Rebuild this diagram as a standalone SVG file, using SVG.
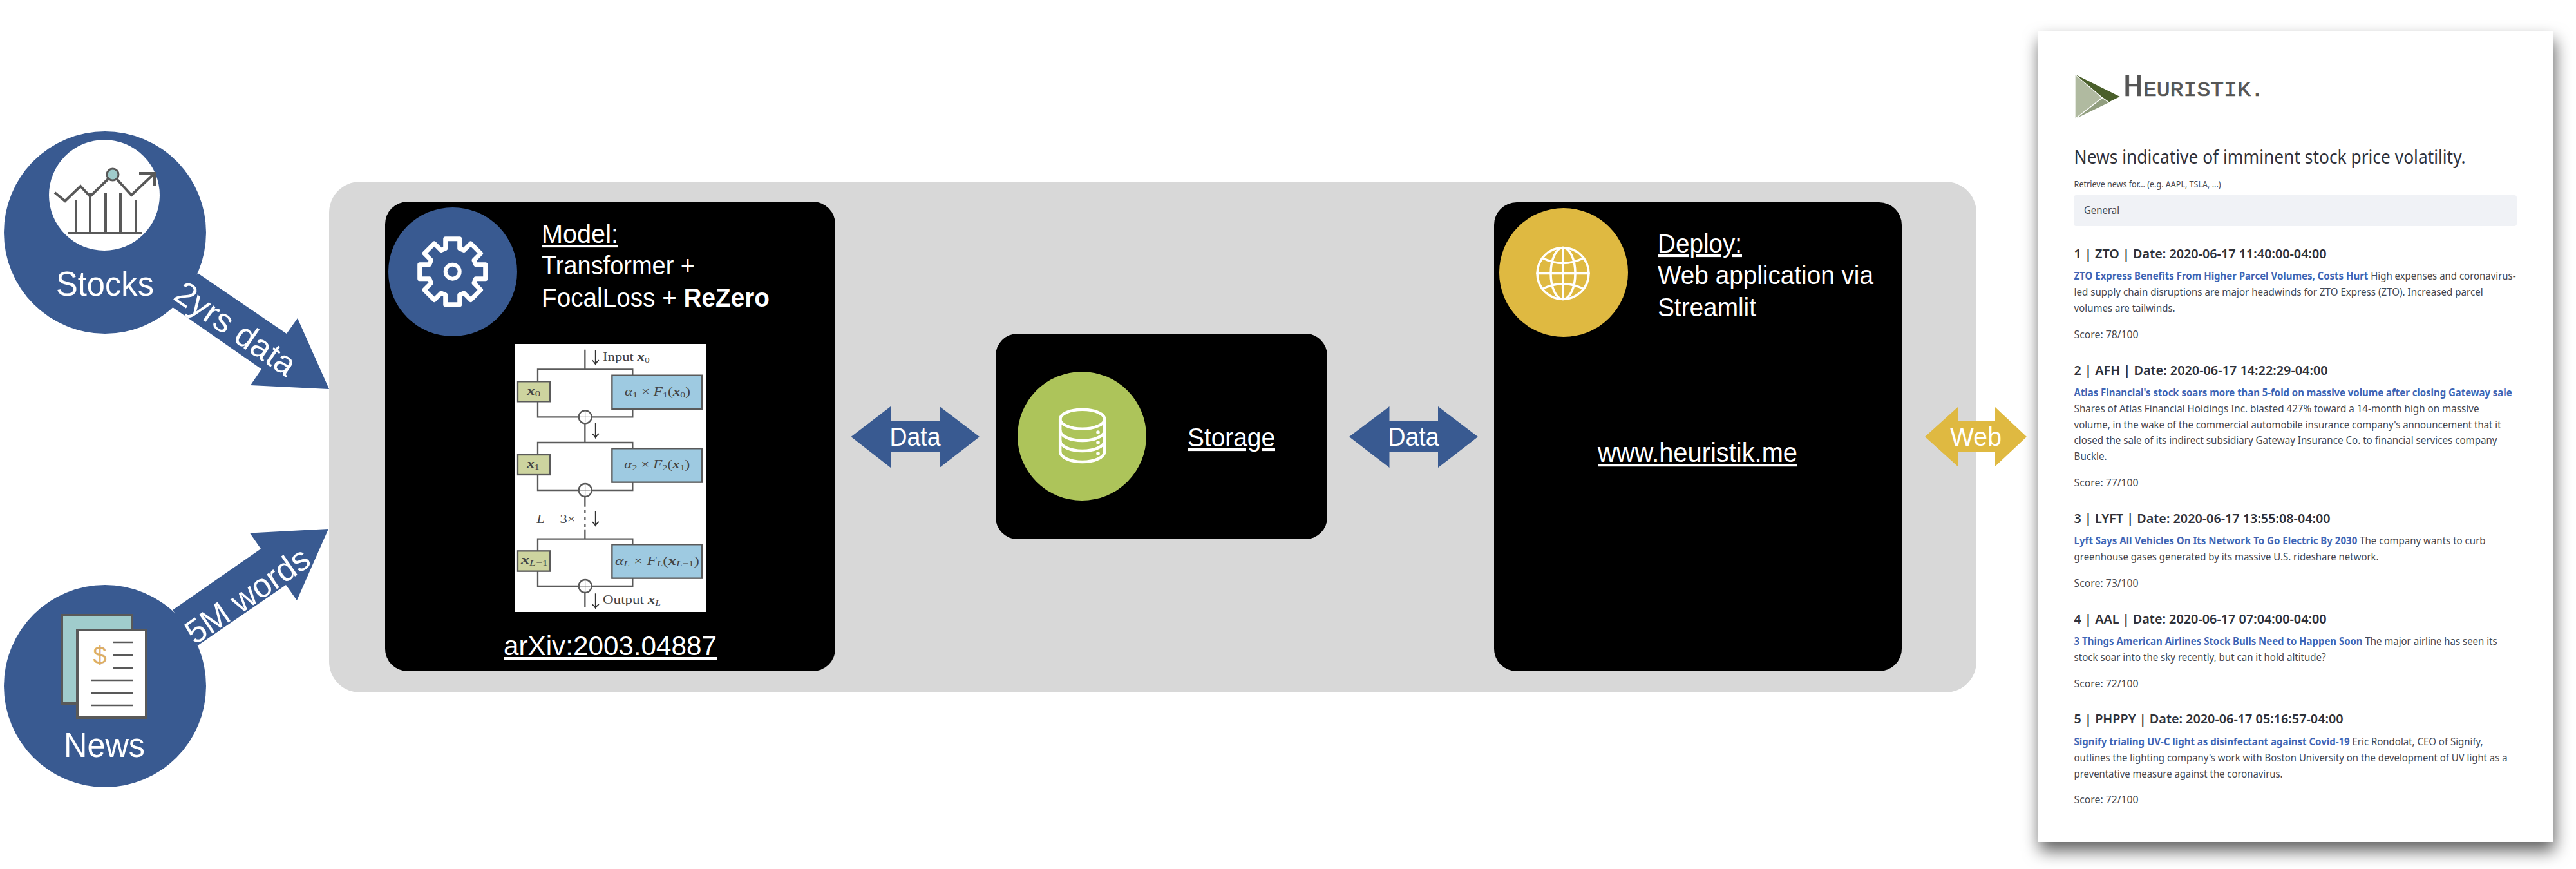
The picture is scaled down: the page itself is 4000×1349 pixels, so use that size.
<svg xmlns="http://www.w3.org/2000/svg" width="4000" height="1349" viewBox="0 0 4000 1349">
<style>
.s{font-family:"Liberation Sans",Arial,sans-serif;fill:#fff}
.t40{font-size:41px}
.t42{font-size:42px}
.t50{font-size:52px}
.t54{font-size:54px}
.u{text-decoration:underline;text-decoration-thickness:2.5px}
.blue{fill:#395a91}
.ln{fill:none;stroke:#595959;stroke-width:4}
.w{fill:none;stroke:#fff;stroke-linejoin:round;stroke-linecap:round}
.fig{fill:none;stroke:#5a5a5a;stroke-width:7}
.m{font-family:"Liberation Serif","Times New Roman",serif;font-size:56px;fill:#444}
.b{font-weight:700}
.i{font-style:italic}
.p{font-family:"Noto Sans",sans-serif;font-size:16.5px;fill:#45474f}
.h{font-family:"Noto Sans",sans-serif;font-size:20.5px;font-weight:600;fill:#2f3139}
.a{font-family:"Noto Sans",sans-serif;font-size:16.5px;font-weight:700;fill:#3f66b6}
</style>
<defs>
<filter id="sh" x="-10%" y="-10%" width="120%" height="120%">
<feDropShadow dx="3" dy="14" stdDeviation="13" flood-color="#000" flood-opacity="0.62"/>
</filter>
</defs>

<rect id="pipeline" x="511" y="282" width="2558" height="793" rx="48" fill="#d8d8d8"/>

<g id="webapp">
<rect x="3164" y="48" width="800" height="1259" fill="#fff" filter="url(#sh)"/>
<polygon points="3222.7,116.7 3263.3,151.7 3222.7,183.3" fill="#b0baa0"/>
<polygon points="3223.3,116 3291.7,150 3275,158.3 3263.3,150" fill="#4a5f2a"/>
<polygon points="3264.3,152.7 3274.3,159.3 3225,183.3" fill="#919e7f"/>
<text x="3296.7" y="149" textLength="219" lengthAdjust="spacingAndGlyphs" font-family="'Liberation Mono',monospace" font-size="32" fill="#555" stroke="#555" stroke-width="0.7"><tspan font-size="48">H</tspan>EURISTIK.</text>
<text x="3220.6" y="254" textLength="608" lengthAdjust="spacingAndGlyphs" font-family="'Noto Sans',sans-serif" font-size="29" fill="#31333c">News indicative of imminent stock price volatility.</text>
<text class="p" x="3220.6" y="291" textLength="228" lengthAdjust="spacingAndGlyphs" style="font-size:13.5px">Retrieve news for... (e.g. AAPL, TSLA, ...)</text>
<rect x="3220" y="303" width="688" height="48" rx="4" fill="#f0f2f6"/>
<text class="p" x="3236" y="332" textLength="55" lengthAdjust="spacingAndGlyphs">General</text>

<text class="h" x="3220.6" y="400.7" textLength="392" lengthAdjust="spacingAndGlyphs">1 | ZTO | Date: 2020-06-17 11:40:00-04:00</text>
<text class="p" x="3220.6" y="434" textLength="686" lengthAdjust="spacingAndGlyphs"><tspan class="a">ZTO Express Benefits From Higher Parcel Volumes, Costs Hurt</tspan> High expenses and coronavirus-</text>
<text class="p" x="3220.6" y="459.3" textLength="635" lengthAdjust="spacingAndGlyphs">led supply chain disruptions are major headwinds for ZTO Express (ZTO). Increased parcel</text>
<text class="p" x="3220.6" y="484" textLength="157" lengthAdjust="spacingAndGlyphs">volumes are tailwinds.</text>
<text class="p" x="3220.6" y="525" textLength="100" lengthAdjust="spacingAndGlyphs">Score: 78/100</text>

<text class="h" x="3220.6" y="581.7" textLength="394" lengthAdjust="spacingAndGlyphs">2 | AFH | Date: 2020-06-17 14:22:29-04:00</text>
<text class="a" x="3220.6" y="615" textLength="680" lengthAdjust="spacingAndGlyphs">Atlas Financial's stock soars more than 5-fold on massive volume after closing Gateway sale</text>
<text class="p" x="3220.6" y="640" textLength="629" lengthAdjust="spacingAndGlyphs">Shares of Atlas Financial Holdings Inc. blasted 427% toward a 14-month high on massive</text>
<text class="p" x="3220.6" y="665" textLength="663" lengthAdjust="spacingAndGlyphs">volume, in the wake of the commercial automobile insurance company's announcement that it</text>
<text class="p" x="3220.6" y="689" textLength="657" lengthAdjust="spacingAndGlyphs">closed the sale of its indirect subsidiary Gateway Insurance Co. to financial services company</text>
<text class="p" x="3220.6" y="714" textLength="51" lengthAdjust="spacingAndGlyphs">Buckle.</text>
<text class="p" x="3220.6" y="755" textLength="100" lengthAdjust="spacingAndGlyphs">Score: 77/100</text>

<text class="h" x="3220.6" y="811.7" textLength="398" lengthAdjust="spacingAndGlyphs">3 | LYFT | Date: 2020-06-17 13:55:08-04:00</text>
<text class="p" x="3220.6" y="845" textLength="639" lengthAdjust="spacingAndGlyphs"><tspan class="a">Lyft Says All Vehicles On Its Network To Go Electric By 2030</tspan> The company wants to curb</text>
<text class="p" x="3220.6" y="870" textLength="473" lengthAdjust="spacingAndGlyphs">greenhouse gases generated by its massive U.S. rideshare network.</text>
<text class="p" x="3220.6" y="910.7" textLength="100" lengthAdjust="spacingAndGlyphs">Score: 73/100</text>

<text class="h" x="3220.6" y="967.7" textLength="392" lengthAdjust="spacingAndGlyphs">4 | AAL | Date: 2020-06-17 07:04:00-04:00</text>
<text class="p" x="3220.6" y="1001" textLength="657" lengthAdjust="spacingAndGlyphs"><tspan class="a">3 Things American Airlines Stock Bulls Need to Happen Soon</tspan> The major airline has seen its</text>
<text class="p" x="3220.6" y="1026" textLength="391" lengthAdjust="spacingAndGlyphs">stock soar into the sky recently, but can it hold altitude?</text>
<text class="p" x="3220.6" y="1066.7" textLength="100" lengthAdjust="spacingAndGlyphs">Score: 72/100</text>

<text class="h" x="3220.6" y="1123" textLength="418" lengthAdjust="spacingAndGlyphs">5 | PHPPY | Date: 2020-06-17 05:16:57-04:00</text>
<text class="p" x="3220.6" y="1157" textLength="635" lengthAdjust="spacingAndGlyphs"><tspan class="a">Signify trialing UV-C light as disinfectant against Covid-19</tspan> Eric Rondolat, CEO of Signify,</text>
<text class="p" x="3220.6" y="1182" textLength="673" lengthAdjust="spacingAndGlyphs">outlines the lighting company's work with Boston University on the development of UV light as a</text>
<text class="p" x="3220.6" y="1207" textLength="324" lengthAdjust="spacingAndGlyphs">preventative measure against the coronavirus.</text>
<text class="p" x="3220.6" y="1247" textLength="100" lengthAdjust="spacingAndGlyphs">Score: 72/100</text>
</g>

<g id="stocks">
<ellipse class="blue" cx="163" cy="361" rx="157" ry="157"/>
<circle cx="162" cy="303" r="86" fill="#fff"/>
<polyline points="85,299 101,312 125,289 140,305 175,271 204,303 240,269" class="ln"/>
<polyline points="216,269 240,269 240,289" class="ln"/>
<path d="M118 310V362M140 299V362M164 299V362M187 299V362M211 310V362M106 362H221" class="ln"/>
<circle cx="175" cy="271" r="9" fill="#a0cccc" stroke="#595959" stroke-width="3"/>
<text class="s t54" x="163" y="459" text-anchor="middle" textLength="152" lengthAdjust="spacingAndGlyphs">Stocks</text>
</g>

<g id="news">
<ellipse class="blue" cx="163" cy="1065" rx="157" ry="157"/>
<rect x="96" y="955" width="109" height="137" fill="#a0cccc" stroke="#595959" stroke-width="4"/>
<rect x="120" y="978" width="107" height="136" fill="#fff" stroke="#595959" stroke-width="4"/>
<text x="155" y="1031" text-anchor="middle" font-family="'Liberation Sans',sans-serif" font-size="38" fill="#dcae66">$</text>
<path d="M175 997H207M175 1017H207M175 1037H207M142 1056H207M142 1076H207M142 1095H207" class="ln" style="stroke-width:2.5"/>
<text class="s t54" x="162" y="1175" text-anchor="middle" textLength="126" lengthAdjust="spacingAndGlyphs">News</text>
</g>

<g id="model">
<rect x="598" y="313" width="699" height="729" rx="35"/>
<circle class="blue" cx="703" cy="422" r="100"/>
<g transform="translate(702.7 421.7)">
<path class="w" stroke-width="7" d="M-11-36V-51H11V-36L17.7-33.2 28.3-43.8 43.8-28.3 33.2-17.7 36-11H51V11H36L33.2 17.7 43.8 28.3 28.3 43.8 17.7 33.2 11 36V51H-11V36L-17.7 33.2-28.3 43.8-43.8 28.3-33.2 17.7-36 11H-51V-11H-36L-33.2-17.7-43.8-28.3-28.3-43.8-17.7-33.2Z"/>
<circle class="w" r="11" stroke-width="6"/>
</g>
<text class="s t40 u" x="841" y="377" textLength="119" lengthAdjust="spacingAndGlyphs">Model:</text>
<text class="s t40" x="841" y="426" textLength="238" lengthAdjust="spacingAndGlyphs">Transformer +</text>
<text class="s t40" x="841" y="476" textLength="354" lengthAdjust="spacingAndGlyphs">FocalLoss + <tspan class="b">ReZero</tspan></text>
<g id="rezero-figure" transform="translate(770 520) scale(0.33333)">
<rect x="87" y="42" width="891" height="1248" fill="#fff"/>
<path class="fig" d="M415 68V160M195 217V160H637V188M195 310V382H637V345M415 412V500M195 558V501H637V529M195 651V723H637V686M415 753V800M415 950V905M195 1006V950H637V976M195 1100V1170H637V1133M415 1200V1268"/>
<path class="fig" d="M415 815V895" stroke-dasharray="13 20"/>
<g class="fig"><rect x="102" y="217" width="150" height="93" fill="#cdd49f"/><rect x="102" y="558" width="150" height="93" fill="#cdd49f"/><rect x="102" y="1006" width="150" height="94" fill="#cdd49f"/></g>
<g class="fig"><rect x="541" y="188" width="419" height="157" fill="#9ecae1"/><rect x="541" y="529" width="419" height="157" fill="#9ecae1"/><rect x="541" y="976" width="419" height="157" fill="#9ecae1"/></g>
<g class="fig"><circle cx="416" cy="382" r="30" fill="#fff"/><circle cx="416" cy="723" r="30" fill="#fff"/><circle cx="416" cy="1170" r="30" fill="#fff"/></g>
<path d="M392 382H440M416 358V406M392 723H440M416 699V747M392 1170H440M416 1146V1194" fill="none" stroke="#666" stroke-width="3"/>
<path d="M464 72V134M448 118Q458 124 464 136Q470 124 480 118M464 410V476M448 460Q458 466 464 478Q470 466 480 460M464 820V886M448 870Q458 876 464 888Q470 876 480 870M464 1204V1270M448 1254Q458 1260 464 1272Q470 1260 480 1254" fill="none" stroke="#333" stroke-width="5"/>
<text class="m" x="498" y="120" textLength="218" lengthAdjust="spacingAndGlyphs">Input <tspan class="b i">x</tspan><tspan font-size="38" dy="8">0</tspan></text>
<text class="m" x="145" y="278" textLength="62" lengthAdjust="spacingAndGlyphs"><tspan class="b i">x</tspan><tspan font-size="38" dy="8">0</tspan></text>
<text class="m" x="145" y="618" textLength="58" lengthAdjust="spacingAndGlyphs"><tspan class="b i">x</tspan><tspan font-size="38" dy="8">1</tspan></text>
<text class="m" x="117" y="1065" textLength="126" lengthAdjust="spacingAndGlyphs"><tspan class="b i">x</tspan><tspan class="i" font-size="38" dy="8">L</tspan><tspan font-size="38">−1</tspan></text>
<text class="m" x="600" y="282" textLength="306" lengthAdjust="spacingAndGlyphs"><tspan class="i">α</tspan><tspan font-size="38" dy="8">1</tspan><tspan dy="-8"> × </tspan><tspan class="i">F</tspan><tspan font-size="38" dy="8">1</tspan><tspan dy="-8">(</tspan><tspan class="b i">x</tspan><tspan font-size="38" dy="8">0</tspan><tspan dy="-8">)</tspan></text>
<text class="m" x="598" y="622" textLength="306" lengthAdjust="spacingAndGlyphs"><tspan class="i">α</tspan><tspan font-size="38" dy="8">2</tspan><tspan dy="-8"> × </tspan><tspan class="i">F</tspan><tspan font-size="38" dy="8">2</tspan><tspan dy="-8">(</tspan><tspan class="b i">x</tspan><tspan font-size="38" dy="8">1</tspan><tspan dy="-8">)</tspan></text>
<text class="m" x="555" y="1070" textLength="393" lengthAdjust="spacingAndGlyphs"><tspan class="i">α</tspan><tspan class="i" font-size="38" dy="8">L</tspan><tspan dy="-8"> × </tspan><tspan class="i">F</tspan><tspan class="i" font-size="38" dy="8">L</tspan><tspan dy="-8">(</tspan><tspan class="b i">x</tspan><tspan class="i" font-size="38" dy="8">L</tspan><tspan font-size="38">−1</tspan><tspan dy="-8">)</tspan></text>
<text class="m" x="190" y="875" textLength="180" lengthAdjust="spacingAndGlyphs"><tspan class="i">L</tspan> − 3×</text>
<text class="m" x="498" y="1252" textLength="270" lengthAdjust="spacingAndGlyphs">Output <tspan class="b i">x</tspan><tspan class="i" font-size="38" dy="8">L</tspan></text>
</g>
<text class="s t42 u" x="782" y="1017" textLength="331" lengthAdjust="spacingAndGlyphs">arXiv:2003.04887</text>
</g>

<g id="storage">
<rect x="1546" y="518" width="515" height="319" rx="34"/>
<circle cx="1680" cy="677" r="100" fill="#adc45a"/>
<g class="w" stroke-width="4.5">
<ellipse cx="1680.7" cy="650.7" rx="34.5" ry="15"/>
<path d="M1646.2 650.7V701C1646.2 710 1662 717 1680.7 717S1715.2 710 1715.2 701V650.7"/>
<path d="M1646.2 668C1646.2 677 1662 684 1680.7 684S1715.2 677 1715.2 668M1646.2 684C1646.2 693 1662 700 1680.7 700S1715.2 693 1715.2 684"/>
</g>
<circle cx="1705" cy="671" r="2.8" fill="#fff"/><circle cx="1705" cy="687" r="2.8" fill="#fff"/><circle cx="1705" cy="704" r="2.8" fill="#fff"/>
<text class="s t40 u" x="1844" y="693" textLength="136" lengthAdjust="spacingAndGlyphs">Storage</text>
</g>

<g id="deploy">
<rect x="2320" y="314" width="633" height="728" rx="35"/>
<circle cx="2428" cy="423" r="100" fill="#dfb941"/>
<g class="w" stroke-width="3.5" transform="translate(2427 424.5)">
<circle r="40"/>
<ellipse rx="19" ry="40"/>
<path d="M0-40V40M-40 0H40M-32-24Q0 -8 32-24M-32 24Q0 8 32 24"/>
</g>
<text class="s t40 u" x="2574" y="392" textLength="131" lengthAdjust="spacingAndGlyphs">Deploy:</text>
<text class="s t40" x="2574" y="441" textLength="335" lengthAdjust="spacingAndGlyphs">Web application via</text>
<text class="s t40" x="2574" y="491" textLength="153" lengthAdjust="spacingAndGlyphs">Streamlit</text>
<text class="s t42 u" x="2481" y="717" textLength="310" lengthAdjust="spacingAndGlyphs">www.heuristik.me</text>
</g>

<g id="connectors">
<polygon class="blue" points="307,424 445,518 462,494 511,604 389,598 406,573 268,477"/>
<text class="s t50" x="366" y="528" text-anchor="middle" textLength="216" lengthAdjust="spacingAndGlyphs" transform="rotate(34.6 366 510)">2yrs data</text>
<polygon class="blue" points="268,947 405,852 388,827.5 510,821 461,932 444,908 307,1002"/>
<text class="s t50" x="384" y="942" text-anchor="middle" textLength="222" lengthAdjust="spacingAndGlyphs" transform="rotate(-34.6 384 924)">5M words</text>
<polygon class="blue" points="1321.5,678 1383,631 1383,653 1459,653 1459,631 1521,678 1459,726 1459,702 1383,702 1383,726"/>
<text class="s t40" x="1421" y="692" text-anchor="middle" textLength="79" lengthAdjust="spacingAndGlyphs">Data</text>
<polygon class="blue" points="2095,678 2157.5,631 2157.5,653 2233,653 2233,631 2295,678 2233,726 2233,702 2157.5,702 2157.5,726"/>
<text class="s t40" x="2195" y="692" text-anchor="middle" textLength="79" lengthAdjust="spacingAndGlyphs">Data</text>
<polygon fill="#dfb941" points="2989,678 3040,632 3040,654 3098,654 3098,632 3147,678 3098,724 3098,702 3040,702 3040,724"/>
<text class="s t40" x="3068" y="692" text-anchor="middle" textLength="80" lengthAdjust="spacingAndGlyphs">Web</text>
</g>
</svg>
